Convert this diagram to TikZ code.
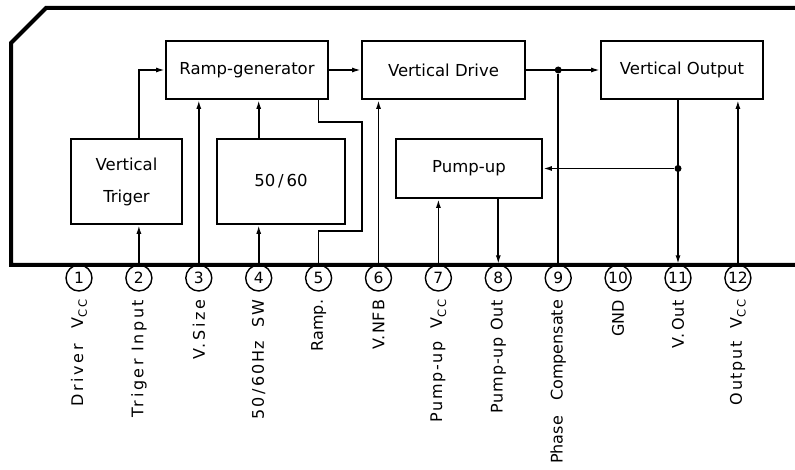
\documentclass[tikz,border=0pt]{standalone}
\usepackage{fontspec}
\setmainfont{DejaVu Sans}
\newfontfamily\wideA[LetterSpace=16]{DejaVu Sans}
\newfontfamily\wideB[LetterSpace=10]{DejaVu Sans}
\newfontfamily\wideC[LetterSpace=6]{DejaVu Sans}
\newfontfamily\wideD[LetterSpace=0]{DejaVu Sans}
\usepackage{tikz}
\usetikzlibrary{positioning,arrows.meta,calc}

\newcommand{\vcc}{V\raisebox{-0.45ex}{\fontsize{11.5}{11.5}\selectfont CC}}

\begin{document}
\begin{tikzpicture}[
    x=1pt, y=-1pt,
    >={Latex[length=9pt,width=5pt]},
    font=\fontsize{16}{19}\selectfont,
    body/.style={
        line width=4pt,
        line join=miter
    },
    block/.style={
        draw=black,
        line width=1.8pt,
        inner sep=2pt,
        align=center,
        font=\fontsize{16.5}{20}\selectfont
    },
    pin/.style={
        draw=black,
        circle,
        line width=1.4pt,
        inner sep=0pt,
        minimum size=26pt,
        font=\fontsize{15.5}{15.5}\selectfont
    },
    lbl/.style={
        rotate=90,
        anchor=east,
        inner sep=0pt
    },
    arr/.style={->, line width=1.7pt},
    wire/.style={line width=1.7pt},
    dot/.style={circle, fill=black, inner sep=0pt, minimum size=7pt}
]
\useasboundingbox (0,0) rectangle (795,470);

% package outline
\draw[body] (797,8) -- (46,8) -- (11,43) -- (11,265) -- (797,265);

% upper row
\node[block, minimum width=162pt, minimum height=58pt] (ramp) at (247,70) {Ramp-generator};
\node[block, minimum width=163pt, minimum height=58pt] (drive) at (443.5,70) {Vertical Drive};
\node[block, minimum width=162pt, minimum height=58pt] (vout) at (682,70) {Vertical Output};

% lower row
\node[block, minimum width=111pt, minimum height=85pt, font=\fontsize{16.5}{32}\selectfont] (trig) at (126.5,181.5) {Vertical\\Triger};
\node[block, minimum width=128pt, minimum height=85pt] (sel) at (281,181.5) {50\,/\,60};
\node[block, minimum width=146pt, minimum height=59pt] (pump) at (469,168.5) {Pump-up};

% pins
\foreach \i in {1,...,12}
    \node[pin] (p\i) at ({79+59.9*(\i-1)},278) {\i};

% pin names
\foreach \i/\txt/\fam in {1/Driver\ \ \vcc/\wideA, 2/Triger Input/\wideA, 3/V.\,Size/\wideA,
    4/{50\,/\,60Hz\ \ SW}/\wideB, 5/Ramp./\wideD, 6/V.NFB/\wideC, 7/Pump-up\ \ \vcc/\wideB,
    8/Pump-up Out/\wideC, 9/Phase\ \ \ Compensate/\wideD, 10/GND/\wideD, 11/V.\,Out/\wideC,
    12/Output\ \ \vcc/\wideB}
    \node[lbl] (l\i) at ([yshift=-8pt]p\i.south) {\fam\txt};

% signal path
\draw[arr] (p2.north) -- (p2 |- trig.south);
\draw[arr] (p2 |- trig.north) |- (ramp.west);
\draw[arr] (p3.north) -- (p3 |- ramp.south);
\draw[arr] (p4.north) -- (p4 |- sel.south);
\draw[arr] (p4 |- sel.north) -- (p4 |- ramp.south);

\coordinate (rk1) at (362,122);
\coordinate (rk2) at (362,231);
\draw[wire] (p5 |- ramp.south) |- (rk1) -- (rk2) -| (p5.north);

\draw[arr] (p6.north) -- (p6 |- drive.south);
\draw[arr] (ramp) -- (drive);
\draw[arr] (drive) -- (vout);
\node[dot] (d9) at (p9 |- drive.east) {};
\draw[wire] (d9) -- (p9.north);

\draw[arr] (p7.north) -- (p7 |- pump.south);
\draw[arr] (p8 |- pump.south) -- (p8.north);

\draw[arr] (p11 |- vout.south) -- (p11.north);
\node[dot] (d11) at (p11 |- pump.east) {};
\draw[arr] (d11) -- (pump.east);
\draw[arr] (p12.north) -- (p12 |- vout.south);

\end{tikzpicture}
\end{document}
